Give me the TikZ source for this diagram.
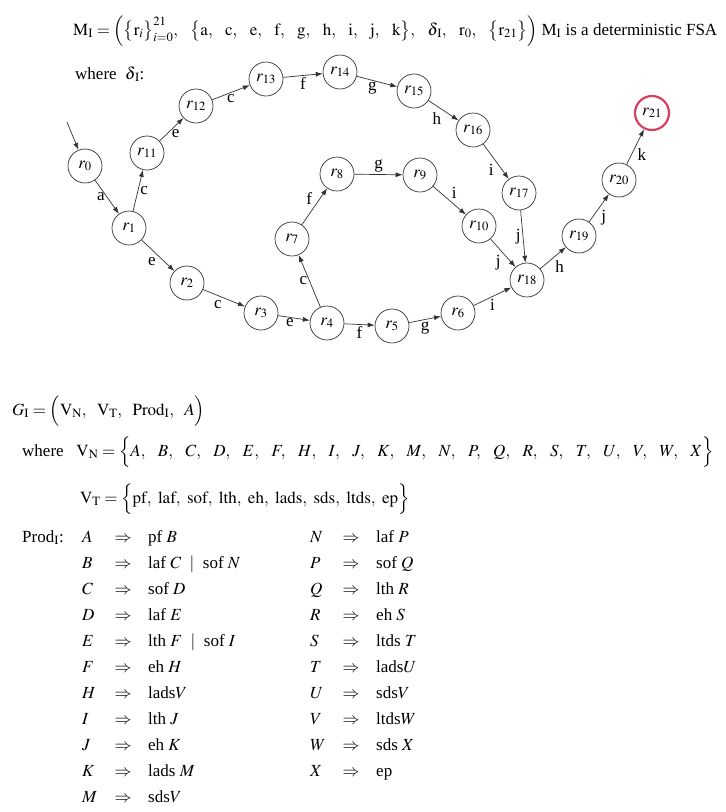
\documentclass[tikz,border=0pt]{standalone}
\usepackage{amsmath}
\usepackage{mathptmx}
\usepackage{fontspec}
\setmainfont{Liberation Serif}
\usepackage{tikz}
\usetikzlibrary{arrows.meta}
\definecolor{edge}{HTML}{333333}
\definecolor{accept}{HTML}{D9405F}
\tikzset{
  state/.style={circle, draw=edge, line width=0.7pt, minimum size=34pt, inner sep=0pt},
  final/.style={state, draw=accept, line width=2.2pt},
  tr/.style={-{Latex[length=7pt,width=5pt]}, draw=edge, line width=0.7pt},
  lab/.style={inner sep=2pt},
  txt/.style={anchor=base west, inner sep=0pt}
}
\newcommand{\wsep}{,\hspace{10.5pt}}% wide gap in a list
\newcommand{\nsep}{,\hspace{4.5pt}}% narrow gap in a list
\newcommand{\ProdRow}[5]{% x, y, name, lhs, rhs
  \node[txt] (#3l) at (#1,#2) {#4};
  \node[anchor=base, inner sep=0pt] (#3a) at (#1+41,#2) {$\Rightarrow$};
  \node[txt] (#3r) at (#1+66,#2) {#5};
}

\begin{document}
\begin{tikzpicture}[x=1pt, y=-1pt, font=\fontsize{17}{20}\selectfont]
  \useasboundingbox (0,0) rectangle (726,812);
  % definition of the automaton
  \node[txt] (mdef) at (73,35) {$\mathrm{M_I}=\Bigl(\bigl\{\mathrm{r}_i\bigr\}_{i=0}^{21}\wsep\bigl\{\mathrm{a}\wsep\mathrm{c}\wsep\mathrm{e}\wsep\mathrm{f}\wsep\mathrm{g}\wsep\mathrm{h}\wsep\mathrm{i}\wsep\mathrm{j}\wsep\mathrm{k}\bigr\}\wsep\delta_{\,\mathrm{I}}\wsep\mathrm{r}_0\wsep\bigl\{\mathrm{r}_{21}\bigr\}\Bigr)$\ M\textsubscript{I} is a deterministic FSA};
  \node[txt] (where) at (75,79) {where\ \ $\delta_{\,\mathrm{I}}$:};

  % states
  \node[state] (r0) at (85,166) {$r_0$};
  \node[state] (r1) at (129,228) {$r_1$};
  \node[state] (r2) at (187,283) {$r_2$};
  \node[state] (r3) at (261,313) {$r_3$};
  \node[state] (r4) at (327,323) {$r_4$};
  \node[state] (r5) at (392,326) {$r_5$};
  \node[state] (r6) at (458,313) {$r_6$};
  \node[state] (r7) at (292,239) {$r_7$};
  \node[state] (r8) at (337,174) {$r_8$};
  \node[state] (r9) at (420,175) {$r_9$};
  \node[state] (r10) at (479,226) {$r_{10}$};
  \node[state] (r11) at (147,153) {$r_{11}$};
  \node[state] (r12) at (196,106) {$r_{12}$};
  \node[state] (r13) at (266,79) {$r_{13}$};
  \node[state] (r14) at (340,72) {$r_{14}$};
  \node[state] (r15) at (414,91) {$r_{15}$};
  \node[state] (r16) at (473,130) {$r_{16}$};
  \node[state] (r17) at (519,193) {$r_{17}$};
  \node[state] (r18) at (527,280) {$r_{18}$};
  \node[state] (r19) at (579,236) {$r_{19}$};
  \node[state] (r20) at (619,180) {$r_{20}$};
  \node[final] (r21) at (652,113) {$r_{21}$};
  \coordinate (start) at (67,122);

  % transitions
  \draw[tr] (start) -- (r0);
  \draw[tr] (r0) -- node[lab, left] {a} (r1);
  \draw[tr] (r1) -- node[lab, right] {c} (r11);
  \draw[tr] (r11) -- node[lab, below right, inner sep=0pt] {e} (r12);
  \draw[tr] (r12) -- node[lab, below] {c} (r13);
  \draw[tr] (r13) -- node[lab, below] {f} (r14);
  \draw[tr] (r14) -- node[lab, below left, inner sep=0pt] {g} (r15);
  \draw[tr] (r15) -- node[lab, below left] {h} (r16);
  \draw[tr] (r16) -- node[lab, below left] {i} (r17);
  \draw[tr] (r17) -- node[lab, left] {j} (r18);
  \draw[tr] (r18) -- node[lab, below right] {h} (r19);
  \draw[tr] (r19) -- node[lab, below right] {j} (r20);
  \draw[tr] (r20) -- node[lab, below right] {k} (r21);
  \draw[tr] (r1) -- node[lab, below left] {e} (r2);
  \draw[tr] (r2) -- node[lab, below left] {c} (r3);
  \draw[tr] (r3) -- node[lab, below left, inner sep=0pt] {e} (r4);
  \draw[tr] (r4) -- node[lab, below] {f} (r5);
  \draw[tr] (r5) -- node[lab, below] {g} (r6);
  \draw[tr] (r6) -- node[lab, below] {i} (r18);
  \draw[tr] (r4) -- node[lab, left] {c} (r7);
  \draw[tr] (r7) -- node[lab, above left] {f} (r8);
  \draw[tr] (r8) -- node[lab, above] {g} (r9);
  \draw[tr] (r9) -- node[lab, above right] {i} (r10);
  \draw[tr] (r10) -- node[lab, below left] {j} (r18);

  % grammar
  \node[txt] (gdef) at (12,415) {$G_{\mathrm{I}}=\Bigl(\mathrm{V_N},\ \ \mathrm{V_T},\ \ \mathrm{Prod}_{\mathrm{I}},\ \ A\Bigr)$};
  \node[txt] (vn) at (22,456) {where\ \ \ $\mathrm{V_N}=\Bigl\{A\wsep B\wsep C\wsep D\wsep E\wsep F\wsep H\wsep I\wsep J\wsep K\wsep M\wsep N\wsep P\wsep Q\wsep R\wsep S\wsep T\wsep U\wsep V\wsep W\wsep X\Bigr\}$};
  \node[txt] (vt) at (80,503) {$\mathrm{V_T}=\Bigl\{\mathrm{pf}\nsep\mathrm{laf}\nsep\mathrm{sof}\nsep\mathrm{lth}\nsep\mathrm{eh}\nsep\mathrm{lads}\nsep\mathrm{sds}\nsep\mathrm{ltds}\nsep\mathrm{ep}\Bigr\}$};
  \node[txt] (prod) at (22,542) {Prod$_{\mathrm{I}}$:};

  \ProdRow{82}{542}{pA}{$A$}{pf $B$}
  \ProdRow{82}{568}{pB}{$B$}{laf $C$ \ $|$ \ sof $N$}
  \ProdRow{82}{594}{pC}{$C$}{sof $D$}
  \ProdRow{82}{620}{pD}{$D$}{laf $E$}
  \ProdRow{82}{646}{pE}{$E$}{lth $F$ \ $|$ \ sof $I$}
  \ProdRow{82}{672}{pF}{$F$}{eh $H$}
  \ProdRow{82}{698}{pH}{$H$}{lads$V$}
  \ProdRow{82}{724}{pI}{$I$}{lth $J$}
  \ProdRow{82}{750}{pJ}{$J$}{eh $K$}
  \ProdRow{82}{776}{pK}{$K$}{lads $M$}
  \ProdRow{82}{802}{pM}{$M$}{sds$V$}

  \ProdRow{310}{542}{pN}{$N$}{laf $P$}
  \ProdRow{310}{568}{pP}{$P$}{sof $Q$}
  \ProdRow{310}{594}{pQ}{$Q$}{lth $R$}
  \ProdRow{310}{620}{pR}{$R$}{eh $S$}
  \ProdRow{310}{646}{pS}{$S$}{ltds $T$}
  \ProdRow{310}{672}{pT}{$T$}{lads$U$}
  \ProdRow{310}{698}{pU}{$U$}{sds$V$}
  \ProdRow{310}{724}{pV}{$V$}{ltds$W$}
  \ProdRow{310}{750}{pW}{$W$}{sds $X$}
  \ProdRow{310}{776}{pX}{$X$}{ep}
\end{tikzpicture}
\end{document}
